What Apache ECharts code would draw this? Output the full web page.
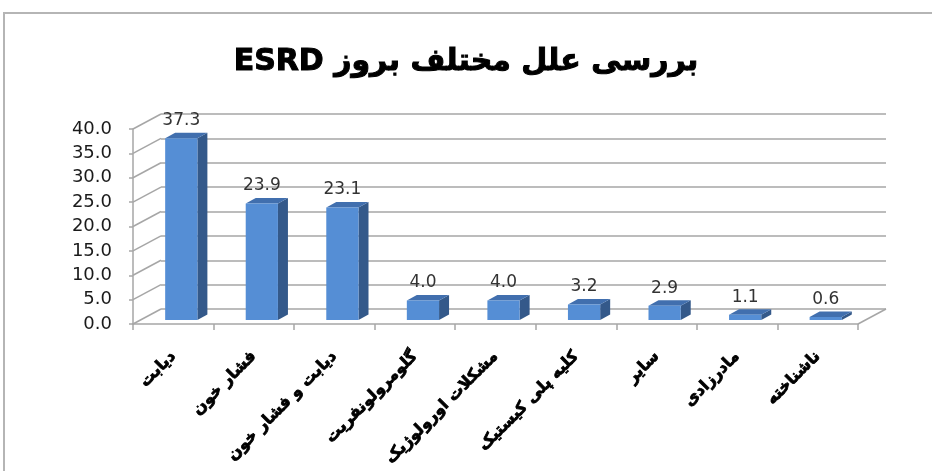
<!DOCTYPE html>
<html>
<head>
<meta charset="utf-8">
<script src="https://cdn.jsdelivr.net/npm/echarts@6/dist/echarts.min.js"></script>
<style>
  html, body { margin: 0; padding: 0; background: #fff; }
  #chart { width: 932px; height: 471px; }
</style>
</head>
<body>
<div id="chart"></div>
<script>
// data
const titleText = "بررسی علل مختلف بروز ESRD";
const categories = [
  "دیابت",
  "فشار خون",
  "دیابت و فشار خون",
  "گلومرولونفریت",
  "مشکلات اورولوژیک",
  "کلیه پلی کیستیک",
  "سایر",
  "مادرزادی",
  "ناشناخته"
];
const values = [37.3, 23.9, 23.1, 4.0, 4.0, 3.2, 2.9, 1.1, 0.6];
const yTicks = [0, 5, 10, 15, 20, 25, 30, 35, 40];

// 3d look
const WALL_DX = 28, WALL_DY = 15;      // depth of the back wall
const BAR_SHIFT_X = 8, BAR_SHIFT_Y = 4; // bar front face sits a bit inside
const BAR_DX = 10, BAR_DY = 5.5;        // bar depth
const BAR_RATIO = 0.4;

const FRONT = { left: 133, right: 74, top: 129, bottom: 147 };
const BACK = {
  left: FRONT.left + WALL_DX,
  right: FRONT.right - WALL_DX,
  top: FRONT.top - WALL_DY,
  bottom: FRONT.bottom + WALL_DY
};

const lineColor = "#a6a6a6";
const font = "'DejaVu Sans', 'Noto Sans', sans-serif";

const chart = echarts.init(document.getElementById("chart"), null, { renderer: "canvas" });

function renderBar(params, api) {
  const idx = api.value(0);
  const v = api.value(1);
  const band = api.size([1, 0])[0];
  const w = band * BAR_RATIO;
  const base = api.coord([idx, 0]);
  const top = api.coord([idx, v]);
  const x0 = base[0] + BAR_SHIFT_X - w / 2;
  const x1 = x0 + w;
  const yb = base[1] - BAR_SHIFT_Y;
  const yt = top[1] - BAR_SHIFT_Y;
  return {
    type: "group",
    children: [
      {
        type: "polygon",
        shape: { points: [[x1, yt], [x1 + BAR_DX, yt - BAR_DY], [x1 + BAR_DX, yb - BAR_DY], [x1, yb]] },
        style: { fill: "#34598a" }
      },
      {
        type: "polygon",
        shape: { points: [[x0, yt], [x0 + BAR_DX, yt - BAR_DY], [x1 + BAR_DX, yt - BAR_DY], [x1, yt]] },
        style: { fill: "#416fae" }
      },
      {
        type: "rect",
        shape: { x: x0, y: yt, width: w, height: yb - yt },
        style: { fill: "#558ed5" }
      },
      {
        type: "text",
        style: {
          x: x0 + w / 2,
          y: yt - 9,
          text: v.toFixed(1),
          fill: "#333",
          font: "17px " + font,
          align: "center",
          verticalAlign: "bottom"
        }
      }
    ]
  };
}

// diagonals from the front axis back to the wall
function renderWallEdge(params, api) {
  const v = api.value(0);
  const band = api.size([1, 0])[0];
  const p = api.coord([0, v]);
  const x0 = p[0] - band / 2;
  return {
    type: "line",
    shape: { x1: x0, y1: p[1], x2: x0 + WALL_DX, y2: p[1] - WALL_DY },
    style: { stroke: lineColor, lineWidth: 1.5 }
  };
}

function renderFloorEdge(params, api) {
  const band = api.size([1, 0])[0];
  const p = api.coord([categories.length - 1, 0]);
  const x0 = p[0] + band / 2;
  return {
    type: "line",
    shape: { x1: x0, y1: p[1], x2: x0 + WALL_DX, y2: p[1] - WALL_DY },
    style: { stroke: lineColor, lineWidth: 1.5 }
  };
}

const option = {
  backgroundColor: "#fff",
  animation: false,
  title: {
    // right-to-left embedding so ESRD ends up on the left
    text: "\u202B" + titleText + "\u202C",
    left: "center",
    top: 42,
    padding: [5, 5, 5, 23],
    textStyle: {
      fontSize: 30,
      fontWeight: "bold",
      color: "#000",
      fontFamily: font,
      textBorderColor: "#000",
      textBorderWidth: 1
    }
  },
  graphic: [
    {
      type: "rect",
      z: -10,
      shape: { x: 4, y: 13, width: 1000, height: 600 },
      style: { fill: "none", stroke: "#b5b5b5", lineWidth: 2 }
    }
  ],
  grid: [
    Object.assign({}, FRONT),
    Object.assign({}, BACK)
  ],
  xAxis: [
    {
      type: "category",
      gridIndex: 0,
      data: categories,
      axisLine: { show: true, lineStyle: { color: lineColor, width: 1.5 } },
      axisTick: { show: true, interval: 0, length: 6, lineStyle: { color: lineColor, width: 1.5 } },
      axisLabel: {
        interval: 0,
        rotate: 45,
        margin: 30,
        fontSize: 16,
        fontWeight: "bold",
        color: "#000",
        fontFamily: font,
        textBorderColor: "#000",
        textBorderWidth: 0.8
      }
    },
    {
      type: "category",
      gridIndex: 1,
      data: categories,
      show: false
    }
  ],
  yAxis: [
    {
      type: "value",
      gridIndex: 0,
      min: 0,
      max: 40,
      interval: 5,
      axisLine: { show: true, lineStyle: { color: lineColor, width: 1.5 } },
      axisTick: { show: true, length: 4, lineStyle: { color: lineColor, width: 1.5 } },
      axisLabel: {
        margin: 21,
        fontSize: 18,
        color: "#1a1a1a",
        fontFamily: font,
        formatter: (v) => v.toFixed(1)
      },
      splitLine: { show: false }
    },
    {
      type: "value",
      gridIndex: 1,
      min: 0,
      max: 40,
      interval: 5,
      axisLine: { show: false },
      axisTick: { show: false },
      axisLabel: { show: false },
      splitLine: { show: true, lineStyle: { color: lineColor, width: 1.5 } }
    }
  ],
  series: [
    {
      type: "custom",
      xAxisIndex: 0,
      yAxisIndex: 0,
      z: 1,
      silent: true,
      renderItem: renderWallEdge,
      data: yTicks.map((t) => [t])
    },
    {
      type: "custom",
      xAxisIndex: 0,
      yAxisIndex: 0,
      z: 1,
      silent: true,
      renderItem: renderFloorEdge,
      data: [[0]]
    },
    {
      type: "custom",
      xAxisIndex: 1,
      yAxisIndex: 1,
      silent: true,
      renderItem: () => null,
      data: []
    },
    {
      type: "custom",
      xAxisIndex: 0,
      yAxisIndex: 0,
      z: 5,
      renderItem: renderBar,
      data: values.map((v, i) => [i, v])
    }
  ]
};

chart.setOption(option);
window.addEventListener("resize", () => chart.resize());
</script>
</body>
</html>
